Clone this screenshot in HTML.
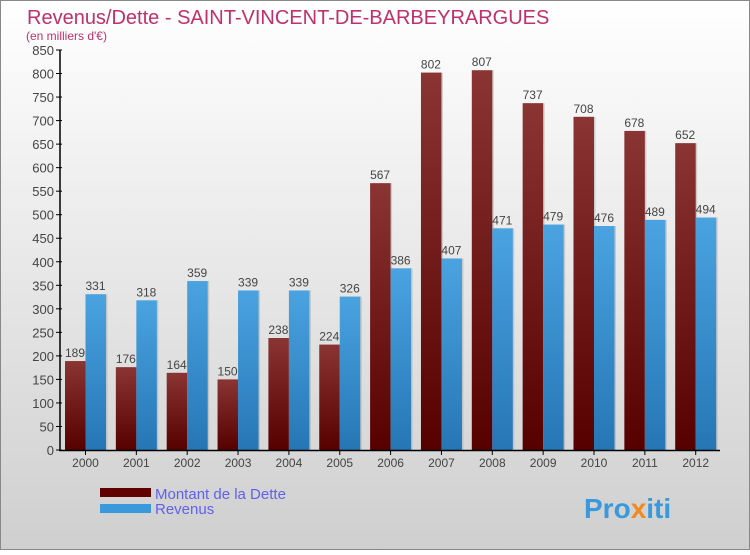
<!DOCTYPE html>
<html><head><meta charset="utf-8"><style>
body{margin:0}
svg text{font-family:"Liberation Sans",sans-serif}
</style></head><body>
<svg id="c" width="750" height="550" xmlns="http://www.w3.org/2000/svg">
<defs>
<linearGradient id="bg" x1="0" y1="0" x2="0" y2="1"><stop offset="0" stop-color="#ffffff"/><stop offset="1" stop-color="#cfcfcf"/></linearGradient>
<linearGradient id="gd" x1="0" y1="0" x2="0" y2="1"><stop offset="0" stop-color="#8a3434"/><stop offset="1" stop-color="#560000"/></linearGradient>
<linearGradient id="gr" x1="0" y1="0" x2="0" y2="1"><stop offset="0" stop-color="#4aa3e0"/><stop offset="1" stop-color="#2676b5"/></linearGradient>
</defs>
<rect x="0.5" y="0.5" width="749" height="549" fill="url(#bg)" stroke="#888"/>
<text x="27" y="24" font-size="20" fill="#c0306a">Revenus/Dette - SAINT-VINCENT-DE-BARBEYRARGUES</text>
<text x="26" y="40" font-size="12" fill="#c0306a">(en milliers d'€)</text>
<g id="plot"></g>
<rect x="100" y="488" width="51" height="9" fill="#600000"/>
<rect x="100" y="504" width="51" height="9" fill="#3a98dc"/>
<text x="155" y="499" font-size="15" fill="#6060f0">Montant de la Dette</text>
<text x="155" y="514" font-size="15" fill="#6060f0">Revenus</text>
<text x="584" y="518" font-size="28" font-weight="bold" fill="#3a98dc">Pro<tspan fill="#f08a20">x</tspan>iti</text>
</svg>
<script>
const years=["2000","2001","2002","2003","2004","2005","2006","2007","2008","2009","2010","2011","2012"];
const dette=[189,176,164,150,238,224,567,802,807,737,708,678,652];
const revenus=[331,318,359,339,339,326,386,407,471,479,476,489,494];
const yTicks=[0,50,100,150,200,250,300,350,400,450,500,550,600,650,700,750,800,850];
const NS="http://www.w3.org/2000/svg";
const g=document.getElementById('plot');
const y=v=>450-v*400/850;
const x0=i=>65+i*50.85;
function mk(t,a,txt){const e=document.createElementNS(NS,t);for(const k in a)e.setAttribute(k,a[k]);if(txt!==undefined)e.textContent=txt;g.appendChild(e);return e;}
yTicks.forEach(v=>{
 const l=mk('line',{x1:56,x2:62,y1:y(v),y2:y(v),stroke:'#000'});
 
 
 const t=mk('text',{x:54,y:y(v)+5,'font-size':13,fill:'#444','text-anchor':'end'},v);
 
 
});
years.forEach((yr,i)=>{
 const xd=x0(i),xr=xd+20.5;
 const sd=mk('rect',{x:xd+2,y:y(dette[i]),width:20,height:450-y(dette[i]),fill:'#aaa',opacity:0.5});
 
 
 const bd=mk('rect',{x:xd,y:y(dette[i]),width:20.5,height:450-y(dette[i]),fill:'url(#gd)'});
 
 
 const sr=mk('rect',{x:xr+2,y:y(revenus[i]),width:20,height:450-y(revenus[i]),fill:'#aaa',opacity:0.5});
 
 
 const br=mk('rect',{x:xr,y:y(revenus[i]),width:20.5,height:450-y(revenus[i]),fill:'url(#gr)'});
 
 
 const td=mk('text',{x:xd+10,y:y(dette[i])-4,'font-size':12,fill:'#444','text-anchor':'middle'},dette[i]);
 
 
 const tr=mk('text',{x:xr+10,y:y(revenus[i])-4,'font-size':12,fill:'#444','text-anchor':'middle'},revenus[i]);
 
 
 const tk=mk('line',{x1:xr,x2:xr,y1:450,y2:455,stroke:'#000'});
 
 
 const xl=mk('text',{x:xr,y:467,'font-size':12,fill:'#444','text-anchor':'middle'},yr);
 
 
});
const ya=mk('line',{x1:60,x2:60,y1:50,y2:451,stroke:'#000','stroke-width':1.5});


const xa=mk('line',{x1:59,x2:720,y1:450.5,y2:450.5,stroke:'#000','stroke-width':1.5});


</script>
</body></html>
